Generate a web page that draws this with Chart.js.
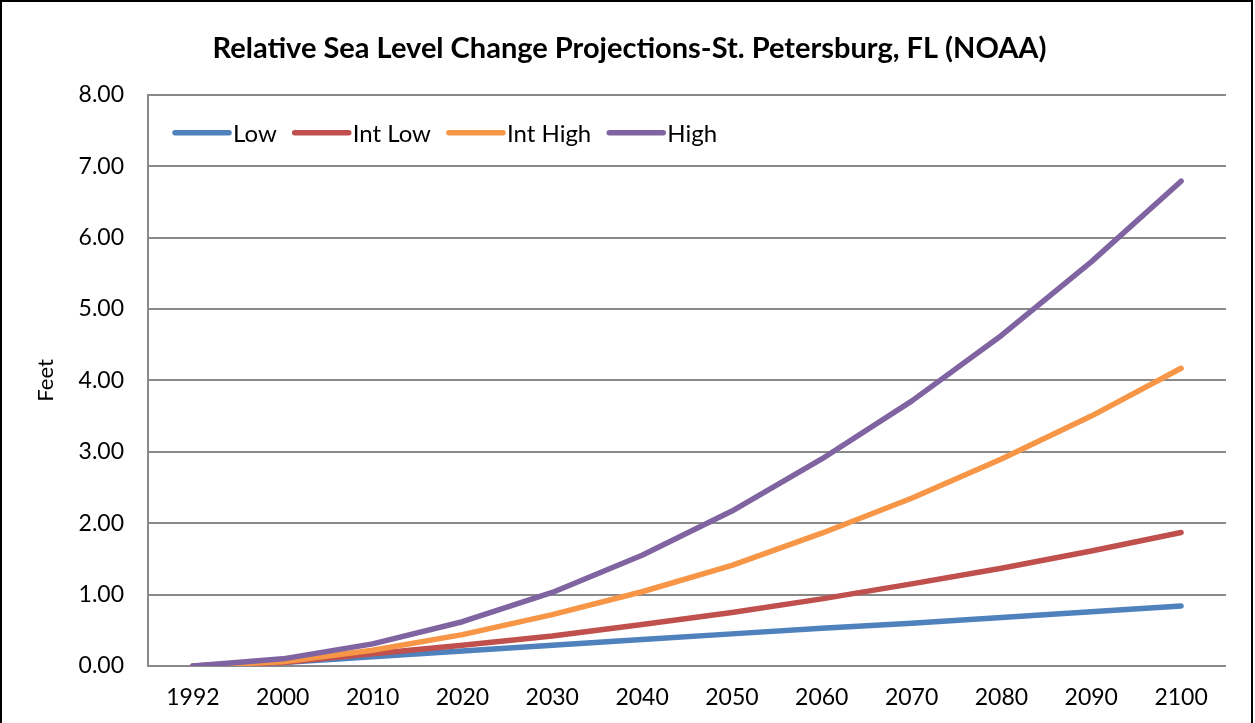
<!DOCTYPE html>
<html>
<head>
<meta charset="utf-8">
<script src="https://cdn.jsdelivr.net/npm/chart.js@4"></script>
<style>
  html, body { margin: 0; padding: 0; background: #fff; overflow: hidden; }
  #wrap { position: relative; width: 1255px; height: 723px; }
  #frame {
    position: absolute; left: 0; top: 0; width: 1253px; height: 740px;
    border: 2px solid #000; box-sizing: border-box; pointer-events: none;
  }
</style>
</head>
<body>
<div id="wrap">
  <canvas id="chart" width="1255" height="723"></canvas>
  <div id="frame"></div>
</div>
<script>
// Years on the x axis
const years = ['1992', '2000', '2010', '2020', '2030', '2040', '2050', '2060', '2070', '2080', '2090', '2100'];

// Projected relative sea level change (feet)
const low = [0, 0.05, 0.13, 0.21, 0.29, 0.37, 0.45, 0.53, 0.60, 0.68, 0.76, 0.84];
const intLow = [0, 0.05, 0.17, 0.29, 0.42, 0.58, 0.75, 0.94, 1.15, 1.37, 1.61, 1.87];
const intHigh = [0, 0.06, 0.22, 0.44, 0.72, 1.04, 1.41, 1.86, 2.35, 2.90, 3.50, 4.17];
const high = [0, 0.10, 0.31, 0.62, 1.03, 1.55, 2.17, 2.90, 3.71, 4.63, 5.66, 6.79];

const FONT = 'Lato, "Open Sans", sans-serif';

function series(label, data, color, order) {
  return {
    label: label,
    data: data,
    borderColor: color,
    backgroundColor: color,
    borderWidth: 5.5,
    borderCapStyle: 'round',
    borderJoinStyle: 'round',
    pointRadius: 0,
    tension: 0,
    fill: false,
    order: order
  };
}

// Legend drawn inside the plot area, like the original
const insideLegend = {
  id: 'insideLegend',
  afterDraw(chart) {
    const ctx = chart.ctx;
    const area = chart.chartArea;
    const y = area.top + 38;
    let x = area.left + 27;
    ctx.save();
    ctx.font = '24px ' + FONT;
    ctx.textBaseline = 'middle';
    ctx.lineCap = 'round';
    chart.data.datasets.forEach(ds => {
      ctx.strokeStyle = ds.borderColor;
      ctx.lineWidth = 5.5;
      ctx.beginPath();
      ctx.moveTo(x, y);
      ctx.lineTo(x + 54, y);
      ctx.stroke();
      ctx.fillStyle = '#000';
      ctx.fillText(ds.label, x + 58, y + 1);
      x += 58 + ctx.measureText(ds.label).width + 18;
    });
    ctx.restore();
  }
};

new Chart(document.getElementById('chart'), {
  type: 'line',
  data: {
    labels: years,
    datasets: [
      series('Low', low, '#4F81BD', 4),
      series('Int Low', intLow, '#C0504D', 3),
      series('Int High', intHigh, '#F79646', 2),
      series('High', high, '#8064A2', 1)
    ]
  },
  options: {
    responsive: false,
    animation: false,
    layout: { padding: { left: 33, right: 29, top: 0, bottom: 0 } },
    plugins: {
      legend: { display: false },
      tooltip: { enabled: false },
      title: {
        display: true,
        text: 'Relative Sea Level Change Projections-St. Petersburg, FL (NOAA)',
        color: '#000',
        font: { family: FONT, size: 29, weight: 'bold', lineHeight: 1.2 },
        padding: { top: 31, bottom: 29 }
      }
    },
    scales: {
      x: {
        offset: true,
        grid: { display: false },
        border: { display: false },
        ticks: { color: '#000', font: { family: FONT, size: 23 }, padding: 10, maxRotation: 0 },
        afterFit: s => { s.height = 57; }
      },
      y: {
        min: 0,
        max: 8,
        ticks: {
          stepSize: 1,
          color: '#000',
          font: { family: FONT, size: 23 },
          padding: 24,
          callback: v => v.toFixed(2)
        },
        grid: { color: '#898989', lineWidth: 2, drawTicks: false },
        border: { display: true, color: '#898989', width: 2 },
        title: {
          display: true,
          text: 'Feet',
          color: '#000',
          font: { family: FONT, size: 22 },
          padding: 0
        },
        afterFit: s => { s.width = 115; }
      }
    }
  },
  plugins: [insideLegend]
});
</script>
</body>
</html>
